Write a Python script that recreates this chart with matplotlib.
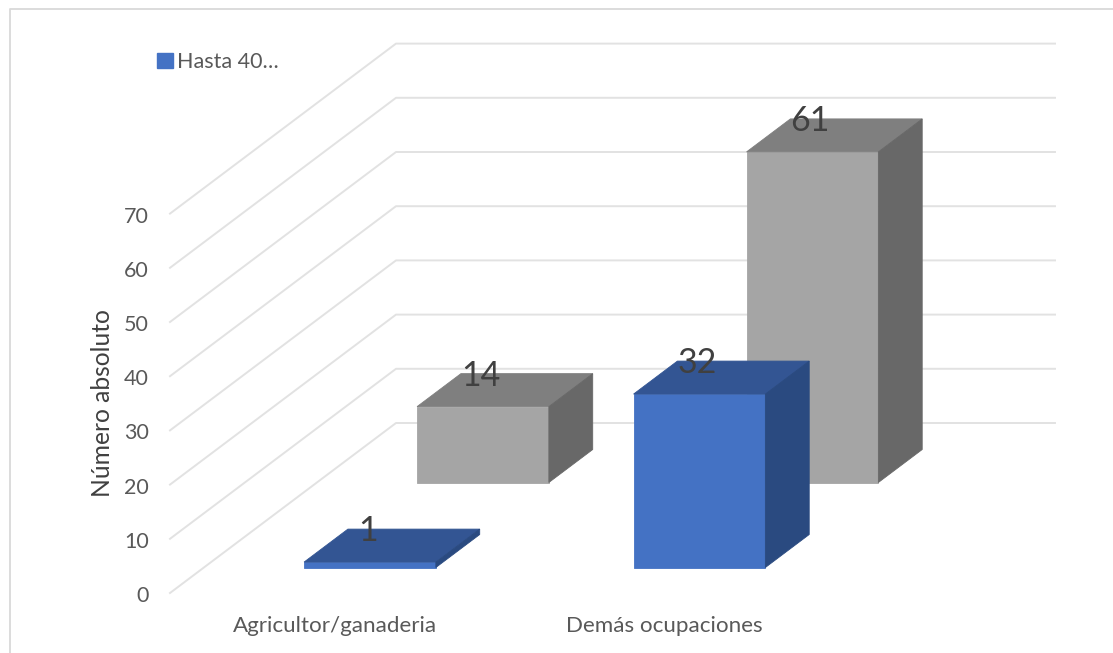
import matplotlib
matplotlib.use("Agg")
import matplotlib.pyplot as plt
from matplotlib.lines import Line2D
from matplotlib.patches import Patch

categories = ["Agricultor/ganaderia", "Demás ocupaciones"]
hasta_40 = [1, 32]
mayores = [14, 61]
y_ticks = [0, 10, 20, 30, 40, 50, 60, 70]

# oblique projection: how far the full floor depth shifts things, in pixels
DEPTH_DX = 226.0
DEPTH_DY = 170.0
PX_PER_CAT = 329.5
PX_PER_UNIT = 5.42
BAR_WIDTH = 0.4
GRID = "#E2E2E2"
TEXT = "#595959"

plt.rcParams["font.family"] = ["Lato", "DejaVu Sans"]

fig = plt.figure(figsize=(11.13, 6.53), dpi=100)
ax = fig.add_axes([0, 0, 1, 1])
ax.set_xlim(-170 / PX_PER_CAT, (1113 - 170) / PX_PER_CAT)
ax.set_ylim(-60 / PX_PER_UNIT, 593 / PX_PER_UNIT)
ax.axis("off")


def project(cat, value, depth):
    return cat + depth * DEPTH_DX / PX_PER_CAT, value + depth * DEPTH_DY / PX_PER_UNIT


def poly(points, color):
    xs, ys = zip(*[project(*p) for p in points])
    ax.fill(xs, ys, color=color, lw=0.6, zorder=3)


def bar3d(cat, value, d0, d1, front, top, side):
    left = cat + 0.504 - BAR_WIDTH / 2
    right = cat + 0.504 + BAR_WIDTH / 2
    poly([(left, 0, d0), (right, 0, d0), (right, value, d0), (left, value, d0)], front)
    poly([(left, value, d0), (right, value, d0), (right, value, d1), (left, value, d1)], top)
    poly([(right, 0, d0), (right, 0, d1), (right, value, d1), (right, value, d0)], side)


# walls
for v in y_ticks:
    x0, y0 = project(0, v, 0)
    x1, y1 = project(0, v, 1)
    x2, y2 = project(2, v, 1)
    ax.plot([x0, x1, x2], [y0, y1, y2], color=GRID, lw=1.4, zorder=1)
    ax.annotate(str(v), (x0, y0), xytext=(-21, -3), textcoords="offset pixels",
                ha="right", va="center", fontsize=15.5, color=TEXT)

# back row first so the front row covers it
for i, val in enumerate(mayores):
    bar3d(i, val, 0.65, 0.844, "#A5A5A5", "#7F7F7F", "#686868")
for i, val in enumerate(hasta_40):
    bar3d(i, val, 0.15, 0.344, "#4472C4", "#335593", "#2A4A80")

for vals, d in ((mayores, 0.65), (hasta_40, 0.15)):
    for i, val in enumerate(vals):
        ax.annotate(str(val), project(i + 0.5, val, d), xytext=(-1, 31),
                    textcoords="offset pixels", ha="center", va="center",
                    fontsize=24.5, color="#404040", zorder=5)

for i, name in enumerate(categories):
    ax.text(i + 0.5, -32.5 / PX_PER_UNIT, name, ha="center", va="center",
            fontsize=16.1, color=TEXT)

fig.text(102 / 1113, 1 - 403 / 653, "Número absoluto", rotation=90,
         ha="center", va="center", fontsize=17.7, color="#404040")

ax.legend(handles=[Patch(color="#4472C4", label="Hasta 40…")], loc="center left",
          bbox_to_anchor=(151 / 1113, 1 - 62 / 653), frameon=False, fontsize=15.5,
          labelcolor=TEXT, handlelength=0.7, handleheight=0.7, handletextpad=0.22,
          borderpad=0, borderaxespad=0.3)

# chart frame, only the left and top edges show
fig.add_artist(Line2D([9.5 / 1113, 9.5 / 1113, 1], [0, 1 - 9 / 653, 1 - 9 / 653],
                      color="#D9D9D9", lw=1.3))

fig.savefig("out.png", dpi=100)
